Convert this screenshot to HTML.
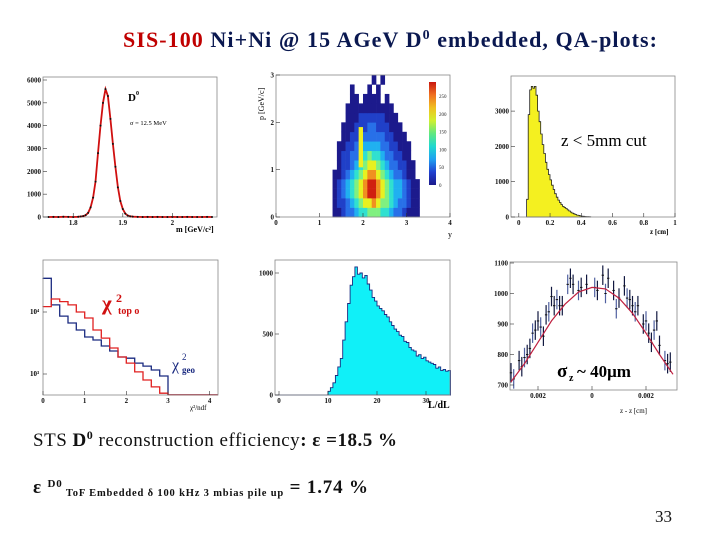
<!DOCTYPE html>
<html><head><meta charset="utf-8"><style>
html,body{margin:0;padding:0;background:#fff}
svg{display:block}
text{font-family:"Liberation Serif",serif}
.tk{font-size:7px;font-weight:bold;fill:#111}
</style></head><body>
<svg id="s" width="720" height="540" viewBox="0 0 720 540">
<text x="123" y="47" font-size="22" font-weight="bold" textLength="534" lengthAdjust="spacing"><tspan fill="#c00000">SIS-100</tspan><tspan fill="#0a1850"> Ni+Ni @ 15 AGeV D</tspan><tspan fill="#0a1850" font-size="14" dy="-8">0</tspan><tspan fill="#0a1850" dy="8"> embedded, QA-plots:</tspan></text>
<g id="g1"></g>
<g id="g2"></g>
<g id="g3"></g>
<g id="g4"></g>
<g id="g5"></g>
<g id="g6"></g>
<text x="33" y="446" font-size="19" fill="#111" textLength="364" lengthAdjust="spacing">STS <tspan font-weight="bold">D</tspan><tspan font-weight="bold" font-size="12" dy="-7">0</tspan><tspan dy="7"> reconstruction efficiency</tspan><tspan font-weight="bold">:  ε =18.5 %</tspan></text>
<text x="33" y="493" font-size="19" font-weight="bold" fill="#111" textLength="335" lengthAdjust="spacing">ε <tspan font-size="11" dy="-6">D0</tspan><tspan font-size="10.5" dy="9"> ToF Embedded δ 100 kHz 3 mbias pile up</tspan><tspan dy="-3"> = 1.74 %</tspan></text>
<text x="655" y="522" font-size="17" fill="#111">33</text>
</svg>
<script>
// ---- Plot 1 data: D0 invariant mass
const massX=[1.75,1.76,1.77,1.78,1.79,1.80,1.81,1.815,1.82,1.825,1.83,1.835,1.84,1.845,1.85,1.855,1.86,1.865,1.87,1.875,1.88,1.885,1.89,1.895,1.90,1.905,1.91,1.915,1.92,1.93,1.94,1.95,1.96,1.97,1.98,1.99,2.00,2.01,2.02,2.03,2.04,2.05,2.06,2.07,2.08];
const massY=[0,5,0,10,5,0,10,20,40,80,180,420,850,1550,2800,4000,5000,5600,5300,4300,3200,2200,1300,700,350,150,60,30,15,5,0,5,0,5,0,0,5,0,0,5,0,0,0,5,0];
const massTicksY=[0,1000,2000,3000,4000,5000,6000];
const massTicksX=[1.8,1.9,2];
// ---- Plot 2 data: pt vs y heatmap (levels 0-9), rows from pt=0 upward step 0.2, cols y=1.3.. step 0.1
const heatRows=["11233455666554332111","12234567787665433211","12345678998765443211","12345678998765443211","11234567887654332110","01223456776543322110","01223345655433221100","01122334444332211100","00112233333322111000","00111222332221110000","00011122222211100000","00011111111111000000","00001101111010000000","00001000101000000000","00000000010100000000"];
const heatTicksX=[0,1,2,3,4];
const heatTicksY=[0,1,2,3];
const cbarTicks=[0,50,100,150,200,250];
// ---- Plot 3 data: z distribution
const zBins=[0.05,0.06,0.07,0.08,0.09,0.10,0.11,0.12,0.13,0.14,0.15,0.16,0.17,0.18,0.19,0.20,0.21,0.22,0.23,0.24,0.25,0.26,0.27,0.28,0.29,0.30,0.31,0.32,0.33,0.34,0.35,0.36,0.37,0.38,0.39,0.40,0.41,0.42,0.43,0.44,0.45];
const zCounts=[500,2900,3600,3700,3650,3700,3450,3000,2700,2350,2050,1800,1550,1350,1200,1050,900,780,660,560,480,410,350,300,270,240,200,170,140,110,90,70,55,45,35,25,20,15,10,8,5];
const zTicksX=[0,0.2,0.4,0.6,0.8,1];
const zTicksY=[0,1000,2000,3000];
// ---- Plot 4 data: chi2 (bin width 0.2)
const chiEdges=[0,0.2,0.4,0.6,0.8,1.0,1.2,1.4,1.6,1.8,2.0,2.2,2.4,2.6,2.8,3.0,4.2];
const chiTopo=[12200,16200,14700,13000,10000,8000,5120,3800,2630,1880,1500,1080,800,620,490,460];
const chiGeo=[35000,13000,8600,6650,5120,3950,3540,2830,2350,1880,1800,1500,1340,1160,930,460];
const chiTicksX=[0,1,2,3,4];
// ---- Plot 5 data: L/dL (bin width 0.5)
const ldlStart=[10,10.5,11,11.5,12,12.5,13,13.5,14,14.5,15,15.5,16,16.5,17,17.5,18,18.5,19,19.5,20,20.5,21,21.5,22,22.5,23,23.5,24,24.5,25,25.5,26,26.5,27,27.5,28,28.5,29,29.5,30,30.5,31,31.5,32,32.5,33,33.5,34,34.5];
const ldlCounts=[30,60,100,160,230,300,450,600,750,900,970,1050,990,1000,960,980,910,860,800,770,730,710,690,660,640,600,570,540,520,490,480,440,430,390,370,360,320,330,300,310,280,270,260,250,220,230,200,210,195,200];
const ldlTicksX=[0,10,20,30];
const ldlTicksY=[0,500,1000];
// ---- Plot 6 data: z resolution
const resX=[-0.0030,-0.0029,-0.0027,-0.0026,-0.0025,-0.0024,-0.0023,-0.0022,-0.0021,-0.0020,-0.0019,-0.0018,-0.0017,-0.0016,-0.0015,-0.0014,-0.0013,-0.0012,-0.0011,-0.0009,-0.0008,-0.0007,-0.0005,-0.0004,-0.0002,0.0001,0.0002,0.0004,0.0005,0.0006,0.0008,0.0009,0.0010,0.0012,0.0013,0.0014,0.0015,0.0016,0.0017,0.0019,0.0020,0.0021,0.0022,0.0023,0.0024,0.0025,0.0027,0.0028,0.0029];
const resY=[740,720,780,760,790,800,820,870,880,910,890,860,930,940,990,960,980,960,960,1030,1050,1030,1010,1020,1030,1020,1010,1060,1000,1050,1010,950,985,1025,985,980,960,940,960,900,910,870,840,880,910,830,780,770,775];
const fitX=[-0.003,-0.0025,-0.002,-0.0015,-0.001,-0.0005,0,0.0005,0.001,0.0015,0.002,0.0025,0.003];
const fitY=[710,770,840,910,965,1005,1020,1015,985,935,870,800,735];
const resTicksX=[-0.002,0,0.002];
const resTicksY=[700,800,900,1000,1100];

const NS="http://www.w3.org/2000/svg";
function mk(p,tag,a,txt){const e=document.createElementNS(NS,tag);for(const k in a)e.setAttribute(k,a[k]);if(txt!==undefined)e.textContent=txt;p.appendChild(e);return e;}
function lin(d0,d1,r0,r1){return v=>r0+(v-d0)/(d1-d0)*(r1-r0);}
function frame(g,x0,y0,x1,y1){const r=mk(g,'rect',{x:x0,y:y0,width:x1-x0,height:y1-y0,fill:'none',stroke:'#888','stroke-width':0.8});

}
function xt(g,sx,vals,y,fmt){vals.forEach(v=>{mk(g,'line',{x1:sx(v),x2:sx(v),y1:y,y2:y-4,stroke:'#333','stroke-width':0.6});
const t=mk(g,'text',{x:sx(v),y:y+8,'text-anchor':'middle',class:'tk'},fmt?fmt(v):v);

});}
function yt(g,sy,vals,x,fmt){vals.forEach(v=>{mk(g,'line',{x1:x,x2:x+4,y1:sy(v),y2:sy(v),stroke:'#333','stroke-width':0.6});
const t=mk(g,'text',{x:x-2,y:sy(v)+2.5,'text-anchor':'end',class:'tk'},fmt?fmt(v):v);

});}

// Plot 1
(function(){const g=document.getElementById('g1');const sx=lin(1.739,2.09,43,217),sy=lin(0,6000,217,80);
frame(g,43,77,217,217);
let d='';massX.forEach((x,i)=>{d+=(i?'L':'M')+sx(x).toFixed(1)+','+sy(massY[i]).toFixed(1);});
const l=mk(g,'path',{d:d,fill:'none',stroke:'#d01010','stroke-width':1.8});


massX.forEach((x,i)=>{const c=mk(g,'circle',{cx:sx(x),cy:sy(massY[i]),r:1,fill:'#111'});

});
xt(g,sx,massTicksX,217);yt(g,sy,massTicksY,43);
mk(g,'text',{x:128,y:101,'font-size':11,'font-weight':'bold'},'D');mk(g,'text',{x:136,y:95,'font-size':6,'font-weight':'bold'},'0');
mk(g,'text',{x:130,y:125,'font-size':6.5},'σ = 12.5 MeV');
mk(g,'text',{x:176,y:232,'font-size':8,'font-weight':'bold'},'m [GeV/c²]');})();

// Plot 2
(function(){const g=document.getElementById('g2');const sx=lin(0,4,276,450),sy=lin(0,3,217,75);
const cols=['none','#1c1a8c','#2040c8','#2870e8','#20b0f0','#30e0d0','#80f080','#e8f020','#f09020','#d02010'];
heatRows.forEach((row,r)=>{for(let c=0;c<row.length;c++){const v=+row[c];if(!v)continue;const x=1.3+c*0.1,y=r*0.2;
const e=mk(g,'rect',{x:sx(x),y:sy(y+0.2),width:sx(x+0.1)-sx(x)+0.3,height:sy(y)-sy(y+0.2)+0.3,fill:cols[v]});

}});
const yb=mk(g,'rect',{x:sx(1.9),y:sy(1.9),width:sx(2.0)-sx(1.9),height:sy(1.05)-sy(1.9),fill:'#f0f020'});


frame(g,276,75,450,217);
const grad=mk(g,'linearGradient',{id:'cb',x1:0,y1:1,x2:0,y2:0});
['#1c1a8c','#2040d0','#20a0f0','#20d8d0','#60e880','#d0f030','#f0c020','#f07020','#c81810'].forEach((c,i)=>mk(grad,'stop',{offset:i/8,'stop-color':c}));
const cb=mk(g,'rect',{x:429,y:82,width:7,height:103,fill:'url(#cb)'});


const sc=lin(0,290,185,82);cbarTicks.forEach(v=>mk(g,'text',{x:439,y:sc(v)+2,'font-size':5,fill:'#222'},v));
xt(g,sx,heatTicksX,217);yt(g,sy,heatTicksY,276);
mk(g,'text',{x:448,y:237,'font-size':8},'y');
mk(g,'text',{x:264,y:120,'font-size':8,transform:'rotate(-90 264 120)'},'p  [GeV/c]');})();

// Plot 3
(function(){const g=document.getElementById('g3');const sx=lin(-0.05,1,511,675),sy=lin(0,1000,217,181.7);
let d='M'+sx(zBins[0])+','+sy(0);zBins.forEach((b,i)=>{d+='L'+sx(b).toFixed(1)+','+sy(zCounts[i]).toFixed(1)+'L'+sx(b+0.01).toFixed(1)+','+sy(zCounts[i]).toFixed(1);});
d+='L'+sx(zBins[zBins.length-1]+0.01)+','+sy(0)+'Z';
const p=mk(g,'path',{d:d,fill:'#f4f020',stroke:'#222','stroke-width':0.8});


frame(g,511,76,675,217);
xt(g,sx,zTicksX,217);yt(g,sy,zTicksY,511);
mk(g,'text',{x:561,y:146,'font-size':17},'z < 5mm cut');
mk(g,'text',{x:650,y:234,'font-size':7,'font-weight':'bold'},'z [cm]');})();

// Plot 4
(function(){const g=document.getElementById('g4');const sx=lin(0,4.2,43,218);const sy=v=>312-(Math.log10(v)-4)*62;
function step(arr,col,nm){let d='M'+sx(0)+','+sy(arr[0]);arr.forEach((v,i)=>{d+='L'+sx(chiEdges[i]).toFixed(1)+','+sy(v).toFixed(1)+'L'+sx(chiEdges[i+1]).toFixed(1)+','+sy(v).toFixed(1);});
const p=mk(g,'path',{d:d,fill:'none',stroke:col,'stroke-width':1.3});

}
step(chiGeo,'#1a2a80','chi2-geo-line');step(chiTopo,'#e02020','chi2-topo-line');
frame(g,43,260,218,395);
xt(g,sx,chiTicksX,395);
[1000,10000].forEach(v=>{mk(g,'line',{x1:43,x2:47,y1:sy(v),y2:sy(v),stroke:'#333','stroke-width':0.6});});
mk(g,'text',{x:30,y:314,'font-size':7,'font-weight':'bold'},'10⁴');mk(g,'text',{x:30,y:376,'font-size':7,'font-weight':'bold'},'10³');
mk(g,'text',{x:190,y:410,'font-size':7},'χ²/ndf');
const t=mk(g,'text',{x:102,y:310,'font-size':21,'font-weight':'bold',fill:'#d01010'},'χ');


mk(g,'text',{x:116,y:302,'font-size':12,'font-weight':'bold',fill:'#d01010'},'2');mk(g,'text',{x:118,y:314,'font-size':10,'font-weight':'bold',fill:'#d01010'},'top o');
const t2=mk(g,'text',{x:172,y:370,'font-size':16,fill:'#1a2a80'},'χ');


mk(g,'text',{x:182,y:360,'font-size':9,fill:'#1a2a80'},'2');mk(g,'text',{x:182,y:373,'font-size':9,'font-weight':'bold',fill:'#1a2a80'},'geo');})();

// Plot 5
(function(){const g=document.getElementById('g5');const sx=lin(0,10,279,328),sy=lin(0,1000,395,273);
let d='M'+sx(-0.8)+','+sy(0)+'L'+sx(ldlStart[0])+','+sy(0);ldlStart.forEach((b,i)=>{d+='L'+sx(b).toFixed(1)+','+sy(ldlCounts[i]).toFixed(1)+'L'+sx(b+0.5).toFixed(1)+','+sy(ldlCounts[i]).toFixed(1);});
const last=ldlStart[ldlStart.length-1]+0.5;d+='L'+sx(last)+','+sy(0)+'Z';
const p=mk(g,'path',{d:d,fill:'#10f0f8',stroke:'#1a2a80','stroke-width':0.9});


frame(g,275,260,450,395);
xt(g,sx,ldlTicksX,395);yt(g,sy,ldlTicksY,275);
mk(g,'text',{x:428,y:408,'font-size':10,'font-weight':'bold'},'L/dL');})();

// Plot 6
(function(){const g=document.getElementById('g6');const sx=lin(0,0.002,592,646),sy=lin(700,1100,385,263);
frame(g,510,262,677,390);
resX.forEach((x,i)=>{const e=mk(g,'line',{x1:sx(x),x2:sx(x),y1:sy(resY[i]-32),y2:sy(resY[i]+32),stroke:i%3==1?'#5060a0':'#111840','stroke-width':1.2});


const c=mk(g,'rect',{x:sx(x)-1.2,y:sy(resY[i])-0.5,width:2.4,height:1,fill:'#111'});

});
let d='';fitX.forEach((x,i)=>{d+=(i?'L':'M')+sx(x).toFixed(1)+','+sy(fitY[i]).toFixed(1);});
const f=mk(g,'path',{d:d,fill:'none',stroke:'#c02040','stroke-width':1.2});


xt(g,sx,resTicksX,390,v=>Math.abs(v));yt(g,sy,resTicksY,510);
mk(g,'text',{x:620,y:413,'font-size':7},'z  - z     [cm]');
const t=mk(g,'text',{x:557,y:377,'font-size':19,'font-weight':'bold'},'σ');


mk(g,'text',{x:569,y:381,'font-size':10,'font-weight':'bold'},'z');mk(g,'text',{x:577,y:377,'font-size':17,'font-weight':'bold'},' ~ 40μm');})();
</script>
</body></html>
